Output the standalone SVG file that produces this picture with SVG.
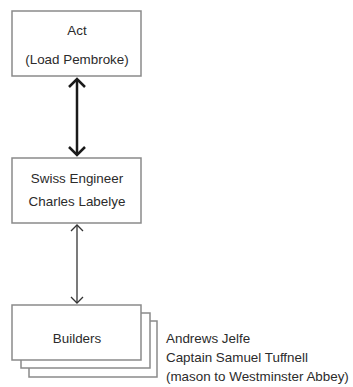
<svg xmlns="http://www.w3.org/2000/svg" width="353" height="387" viewBox="0 0 353 387">
<style>
.box{fill:#fff;stroke:#8a8a8a;stroke-width:1.5}
.t{font-family:"Liberation Sans",Arial,sans-serif;font-size:13.4px;fill:#2b2b2b}
.c{text-anchor:middle}
.thick{stroke:#1a1a1a;stroke-width:2.5;fill:none}
.thin{stroke:#333;stroke-width:1.3;fill:none}
</style>
<rect width="353" height="387" fill="#fff"/>
<g id="connectors">
<line class="thick" x1="77" y1="79" x2="77" y2="155"/>
<polyline class="thick" points="69,87 77,79 85,87"/>
<polyline class="thick" points="69,147 77,155 85,147"/>
<line class="thin" x1="77" y1="225" x2="77" y2="303"/>
<polyline class="thin" points="71,231 77,225 83,231"/>
<polyline class="thin" points="71,297 77,303 83,297"/>
</g>
<g id="act">
<rect class="box" x="12" y="11" width="129" height="65"/>
<text class="t c" x="77" y="35">Act</text>
<text class="t c" x="77" y="64">(Load Pembroke)</text>
</g>
<g id="engineer">
<rect class="box" x="12" y="158" width="129" height="65"/>
<text class="t c" x="77" y="183">Swiss Engineer</text>
<text class="t c" x="77" y="206">Charles Labelye</text>
</g>
<g id="builders">
<rect class="box" x="29" y="321" width="128" height="56"/>
<rect class="box" x="21" y="313" width="129" height="55"/>
<rect class="box" x="12" y="305" width="129" height="55"/>
<text class="t c" x="77" y="343">Builders</text>
</g>
<g id="builders-names">
<text class="t" x="166" y="343">Andrews Jelfe</text>
<text class="t" x="166" y="362">Captain Samuel Tuffnell</text>
<text class="t" x="166" y="381">(mason to Westminster Abbey)</text>
</g>
</svg>
